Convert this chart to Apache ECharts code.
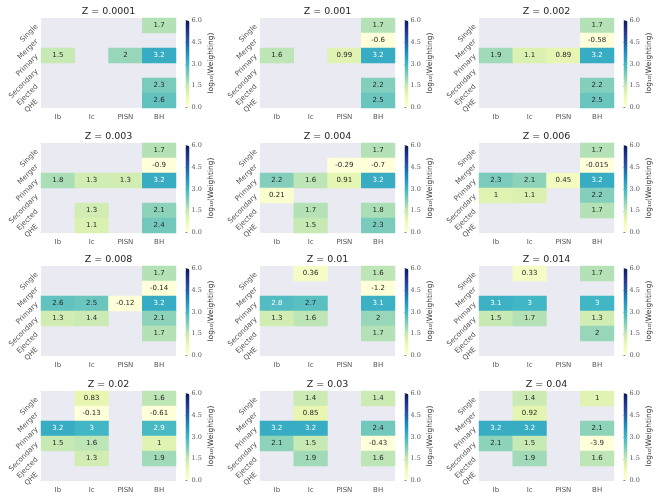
<!DOCTYPE html>
<html>
<head>
<meta charset="utf-8">
<script src="https://cdn.jsdelivr.net/npm/echarts@6/dist/echarts.min.js"></script>
<style>
  html, body { margin: 0; padding: 0; background: #fff; }
  #main { width: 665px; height: 502px; }
</style>
</head>
<body>
<div id="main"></div>
<script>
// metallicity of each panel
var zLabels = ['0.0001', '0.001', '0.002', '0.003', '0.004', '0.006',
               '0.008', '0.01', '0.014', '0.02', '0.03', '0.04'];
// rows (top to bottom) and columns
var channels = ['Single', 'Merger', 'Primary', 'Secondary', 'Ejected', 'QHE'];
var snTypes = ['Ib', 'Ic', 'PISN', 'BH'];
// colour bar scale
var cbMin = 0, cbMax = 6, cbStep = 1.5;

// log10(Weighting), one 6x4 table per panel, null = empty cell
var weighting = [
  [[null, null, null, 1.7], [null, null, null, null], [1.5, null, 2, 3.2],
   [null, null, null, null], [null, null, null, 2.3], [null, null, null, 2.6]],
  [[null, null, null, 1.7], [null, null, null, -0.6], [1.6, null, 0.99, 3.2],
   [null, null, null, null], [null, null, null, 2.2], [null, null, null, 2.5]],
  [[null, null, null, 1.7], [null, null, null, -0.58], [1.9, 1.1, 0.89, 3.2],
   [null, null, null, null], [null, null, null, 2.2], [null, null, null, 2.5]],
  [[null, null, null, 1.7], [null, null, null, -0.9], [1.8, 1.3, 1.3, 3.2],
   [null, null, null, null], [null, 1.3, null, 2.1], [null, 1.1, null, 2.4]],
  [[null, null, null, 1.7], [null, null, -0.29, -0.7], [2.2, 1.6, 0.91, 3.2],
   [0.21, null, null, null], [null, 1.7, null, 1.8], [null, 1.5, null, 2.3]],
  [[null, null, null, 1.7], [null, null, null, -0.015], [2.3, 2.1, 0.45, 3.2],
   [1, 1.1, null, 2.2], [null, null, null, 1.7], [null, null, null, null]],
  [[null, null, null, 1.7], [null, null, null, -0.14], [2.6, 2.5, -0.12, 3.2],
   [1.3, 1.4, null, 2.1], [null, null, null, 1.7], [null, null, null, null]],
  [[null, 0.36, null, 1.6], [null, null, null, -1.2], [2.8, 2.7, null, 3.1],
   [1.3, 1.6, null, 2], [null, null, null, 1.7], [null, null, null, null]],
  [[null, 0.33, null, 1.7], [null, null, null, null], [3.1, 3, null, 3],
   [1.5, 1.7, null, 1.3], [null, null, null, 2], [null, null, null, null]],
  [[null, 0.83, null, 1.6], [null, -0.13, null, -0.61], [3.2, 3, null, 2.9],
   [1.5, 1.6, null, 1], [null, 1.3, null, 1.9], [null, null, null, null]],
  [[null, 1.4, null, 1.4], [null, 0.85, null, null], [3.2, 3.2, null, 2.4],
   [2.1, 1.5, null, -0.43], [null, 1.9, null, 1.6], [null, null, null, null]],
  [[null, 1.4, null, 1], [null, 0.92, null, null], [3.2, 3.2, null, 2.1],
   [2.1, 1.5, null, -3.9], [null, 1.9, null, 1.6], [null, null, null, null]]
];

var ylgnbu = ['#ffffd9', '#edf8b1', '#c7e9b4', '#7fcdbb', '#41b6c4',
              '#1d91c0', '#225ea8', '#253494', '#081d58'];

// panel layout
var colLeft = [41, 260, 479], rowTop = [18, 143, 266, 391];
var gw = 135, gh = 90;
var tickColor = '#555', font = 'DejaVu Sans';
var n = zLabels.length;

var grid = [], xAxis = [], yAxis = [], series = [], visualMap = [], graphic = [];
var cbGrid = [], cbX = [], cbY = [];

zLabels.forEach(function (z, i) {
  var left = colLeft[i % 3], top = rowTop[Math.floor(i / 3)];
  var cbLeft = left + gw + 9.5, cbTop = top + 2.5, cbH = 87;

  grid.push({left: left, top: top, width: gw, height: gh,
    show: true, backgroundColor: '#eaeaf2', borderWidth: 0});
  xAxis.push({type: 'category', gridIndex: i, data: snTypes,
    axisLine: {show: false}, axisTick: {show: false}, splitLine: {show: false},
    axisLabel: {color: tickColor, fontSize: 7, fontFamily: font, margin: 6}});
  yAxis.push({type: 'category', gridIndex: i, data: channels, inverse: true,
    axisLine: {show: false}, axisTick: {show: false}, splitLine: {show: false},
    axisLabel: {color: tickColor, fontSize: 7.2, fontFamily: font, margin: 4, rotate: 45}});

  var data = [];
  weighting[i].forEach(function (row, r) {
    row.forEach(function (v, c) {
      if (v === null) return;
      data.push({value: [c, r, v],
        label: {color: v >= 2.8 ? '#ffffff' : '#262626'}});
    });
  });
  series.push({type: 'heatmap', xAxisIndex: i, yAxisIndex: i, data: data,
    label: {show: true, fontSize: 7, fontFamily: font,
      formatter: function (p) { return String(p.value[2]); }},
    emphasis: {disabled: true}, silent: true});

  visualMap.push({type: 'continuous', seriesIndex: i, min: cbMin, max: cbMax,
    orient: 'vertical', left: cbLeft, top: cbTop, itemWidth: 4, itemHeight: cbH,
    padding: 0, calculable: false, hoverLink: false, text: null,
    inRange: {color: ylgnbu}, outOfRange: {color: ylgnbu[0]}});

  // colour bar tick axis
  cbGrid.push({left: cbLeft, top: cbTop, width: 4, height: cbH});
  cbX.push({type: 'value', gridIndex: n + i, show: false});
  cbY.push({type: 'value', gridIndex: n + i, position: 'right',
    min: cbMin, max: cbMax, interval: cbStep,
    axisLine: {show: false}, splitLine: {show: false},
    axisTick: {show: true, length: 2, lineStyle: {color: tickColor, width: 0.8}},
    axisLabel: {color: tickColor, fontSize: 6.5, fontFamily: 'DejaVu Serif', margin: 2,
      formatter: function (v) { return v.toFixed(1); }}});

  graphic.push({type: 'text', x: left + gw / 2, y: top - 6,
    style: {text: 'Z = ' + z, fill: '#262626', fontSize: 9.5, fontFamily: font,
      align: 'center', verticalAlign: 'middle'}});
  graphic.push({type: 'text', x: left + 170, y: top + 45, rotation: Math.PI / 2,
    style: {text: 'log\u2081\u2080(Weighting)', fill: '#333', fontSize: 7.5, fontFamily: font,
      align: 'center', verticalAlign: 'middle'}});
});

var chart = echarts.init(document.getElementById('main'), null, {renderer: 'canvas'});
chart.setOption({
  animation: false,
  backgroundColor: '#ffffff',
  grid: grid.concat(cbGrid),
  xAxis: xAxis.concat(cbX),
  yAxis: yAxis.concat(cbY),
  visualMap: visualMap,
  series: series,
  graphic: graphic
});
</script>
</body>
</html>
